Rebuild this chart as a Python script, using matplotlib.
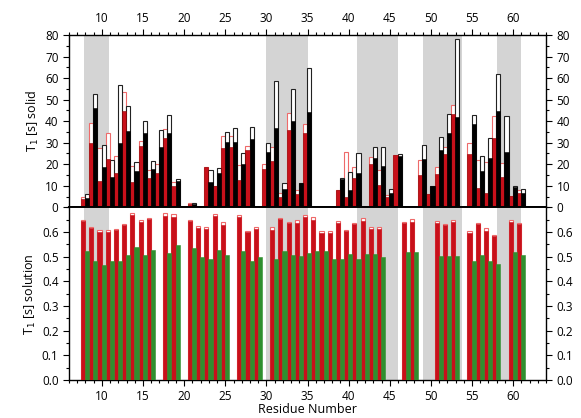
import numpy as np
import matplotlib as mpl
mpl.use('Agg')
import matplotlib.pyplot as plt
from matplotlib.ticker import MultipleLocator

plt.rcParams['font.family'] = ['Open Sans', 'DejaVu Sans']

nan = np.nan
residues = list(range(8, 62))

# solid state T1 [s]: filled part and open (outline) part, red and black series
solid_red = [4, 29.7, 12.4, 22.3, 15.8, 44.9, 11.6, 28.5, 13.5, 15.8, 32.4, 10, nan, 1.5, nan,
             18.9, 10, 27.4, 28.2, 12.7, 26.6, nan, 17.6, 21.5, 4.6, 35.9, 6.2, 34.4, nan, nan, nan,
             8, 5, 13.8, nan, 20, 10.4, 5, 24.3, nan, nan, 15, 6.2, 15.5, 24.8, 43.3, nan,
             24.8, 8.8, 6.5, 32, 13.9, 5.4, 6.8]
solid_red_open = [5, 39, 27.7, 34.7, 23.8, 53.7, 19.3, 31, 17.3, 20, 36.4, 11.6, nan, 2, nan,
                  18.9, 10, 33.3, 33, 19.7, 28.6, nan, 20, 28.2, 6.8, 43.7, 8, 38.7, nan, nan, nan,
                  8, 25.7, 18.9, nan, 23.5, 17.3, 5.7, 24.3, nan, nan, 22, 6.2, 18.9, 28.2, 47.5, nan,
                  30, 22, 21.2, 42.4, 20.4, 5.4, 8]
solid_black = [4.5, 46, 18.9, 14.2, 30, 35.4, 17, 34.7, 17.8, 28, 34.7, 12, nan, 1.5, nan,
               11.9, 15.8, 30.5, 30.5, 20, 31.7, nan, 25.9, 36.7, 8.4, 40.2, 11.1, 44.4, nan, nan, nan,
               13.2, 8, 16.1, nan, 22.8, 19.2, 6.5, 23.8, nan, nan, 22.6, 10, 26.6, 34.7, 42.1, nan,
               38.7, 16.9, 22.8, 44.9, 25.5, 9.6, 6.8]
solid_black_open = [6, 52.6, 29, 22, 56.7, 47, 21.2, 40, 21.5, 36, 42.9, 13, nan, 2, nan,
                    17.3, 18.4, 35, 36.7, 25, 37.2, nan, 30, 58.8, 11.1, 55, 11.1, 64.9, nan, nan, nan,
                    13.8, 16.6, 25.4, nan, 27.9, 27.9, 8.4, 24.8, nan, nan, 29, 10, 32.8, 43.3, 78, nan,
                    42.9, 23.8, 32.4, 61.8, 42.4, 10, 8.4]

# solution T1 [s]
sol_red_open = [0.650, 0.621, 0.607, 0.607, 0.614, 0.634, 0.675, 0.648, 0.657, nan, 0.675, 0.671, nan,
                0.650, 0.623, 0.619, 0.671, 0.641, nan, 0.667, 0.606, 0.619, nan, 0.619, 0.657, 0.641,
                0.650, 0.668, 0.660, 0.603, 0.606, 0.643, 0.610, 0.637, 0.657, 0.619, 0.619, nan, nan,
                0.641, 0.653, nan, nan, 0.644, 0.634, 0.648, nan, 0.603, 0.637, 0.616, 0.589, nan,
                0.648, 0.637]
sol_red = [0.645, 0.615, 0.601, 0.601, 0.608, 0.628, 0.669, 0.642, 0.651, nan, 0.663, 0.660, nan,
           0.644, 0.617, 0.613, 0.665, 0.629, nan, 0.661, 0.600, 0.613, nan, 0.607, 0.651, 0.635,
           0.638, 0.662, 0.648, 0.597, 0.594, 0.637, 0.604, 0.631, 0.645, 0.613, 0.613, nan, nan,
           0.635, 0.641, nan, nan, 0.638, 0.628, 0.642, nan, 0.597, 0.631, 0.604, 0.583, nan,
           0.642, 0.631]
sol_green = [0.522, 0.481, 0.467, 0.481, 0.484, 0.505, 0.538, 0.508, 0.528, nan, 0.515, 0.546, nan,
             0.535, 0.497, 0.492, 0.528, 0.505, nan, 0.524, 0.481, 0.498, nan, 0.492, 0.524, 0.505,
             0.504, 0.515, 0.524, 0.521, 0.492, 0.492, 0.511, 0.492, 0.511, 0.511, 0.497, nan, nan,
             0.518, 0.518, nan, nan, 0.504, 0.501, 0.504, nan, 0.481, 0.508, 0.481, 0.472, nan,
             0.520, 0.508]

shaded = [(7.85, 10.9), (30, 35), (41, 46), (49, 53.8), (58, 60.9)]

RED = '#c8101a'
RED_LIGHT = '#ee6a6a'
GREEN = '#2f8f2f'
GREY = '#d4d4d4'


def bars(ax, x, vals, **kw):
    x = np.asarray(x, float)
    v = np.asarray(vals, float)
    m = ~np.isnan(v)
    ax.bar(x[m], v[m], width=0.5, align='center', **kw)


fig = plt.figure(figsize=(5.81, 4.18), dpi=100)
ax1 = fig.add_axes([0.1188, 0.504, 0.821, 0.4123])
ax2 = fig.add_axes([0.1188, 0.0909, 0.821, 0.4131])

xr = np.array(residues) - 0.3
xb = np.array(residues) + 0.2

for ax in (ax1, ax2):
    for a, b in shaded:
        ax.axvspan(a, b, color=GREY, lw=0, zorder=0)

# top panel
bars(ax1, xr, solid_red_open, color='white', edgecolor=RED_LIGHT, linewidth=0.8, zorder=2)
bars(ax1, xb, solid_black_open, color='white', edgecolor='#222222', linewidth=0.8, zorder=2)
bars(ax1, xr, solid_red, color=RED, edgecolor='#8a0000', linewidth=0.4, zorder=3)
bars(ax1, xb, solid_black, color='black', edgecolor='black', linewidth=0.4, zorder=3)

# bottom panel
bars(ax2, xr, sol_red_open, color='white', edgecolor=RED_LIGHT, linewidth=0.8, zorder=2)
bars(ax2, xr, sol_red, color=RED, edgecolor=RED, linewidth=0.4, zorder=3)
bars(ax2, xb, sol_green, color=GREEN, edgecolor=GREEN, linewidth=0.4, zorder=3)

for ax in (ax1, ax2):
    ax.set_xlim(6, 64)
    ax.xaxis.set_major_locator(MultipleLocator(5))
    ax.xaxis.set_minor_locator(MultipleLocator(1))
    ax.tick_params(which='both', direction='out', labelsize=8.5, width=0.8)
    ax.tick_params(which='major', length=4)
    ax.tick_params(which='minor', length=2)
    for s in ax.spines.values():
        s.set_linewidth(1.0)

ax1.set_ylim(0, 80)
ax1.yaxis.set_major_locator(MultipleLocator(10))
ax1.yaxis.set_minor_locator(MultipleLocator(5))
ax1.tick_params(axis='x', which='both', top=True, bottom=False, labeltop=True, labelbottom=False)
ax1.tick_params(axis='y', which='both', left=True, right=True, labelleft=True, labelright=True)
ax1.set_xticks([10, 15, 20, 25, 30, 35, 40, 45, 50, 55, 60])
ax1.set_ylabel('T$_1$ [s] solid', fontsize=9, labelpad=3)

ax2.set_ylim(0, 0.7)
ax2.set_yticks([0.0, 0.1, 0.2, 0.3, 0.4, 0.5, 0.6])
ax2.yaxis.set_minor_locator(MultipleLocator(0.05))
ax2.yaxis.set_major_formatter(mpl.ticker.FormatStrFormatter('%.1f'))
ax2.tick_params(axis='x', which='both', top=False, bottom=True)
ax2.tick_params(axis='y', which='both', left=True, right=True, labelleft=True, labelright=True)
ax2.set_xticks([10, 15, 20, 25, 30, 35, 40, 45, 50, 55, 60])
ax2.set_ylabel('T$_1$ [s] solution', fontsize=9, labelpad=3)
ax2.set_xlabel('Residue Number', fontsize=9, labelpad=0)

ax1.spines['bottom'].set_linewidth(1.4)
ax2.spines['top'].set_linewidth(1.4)

fig.savefig('out.png', dpi=100)
